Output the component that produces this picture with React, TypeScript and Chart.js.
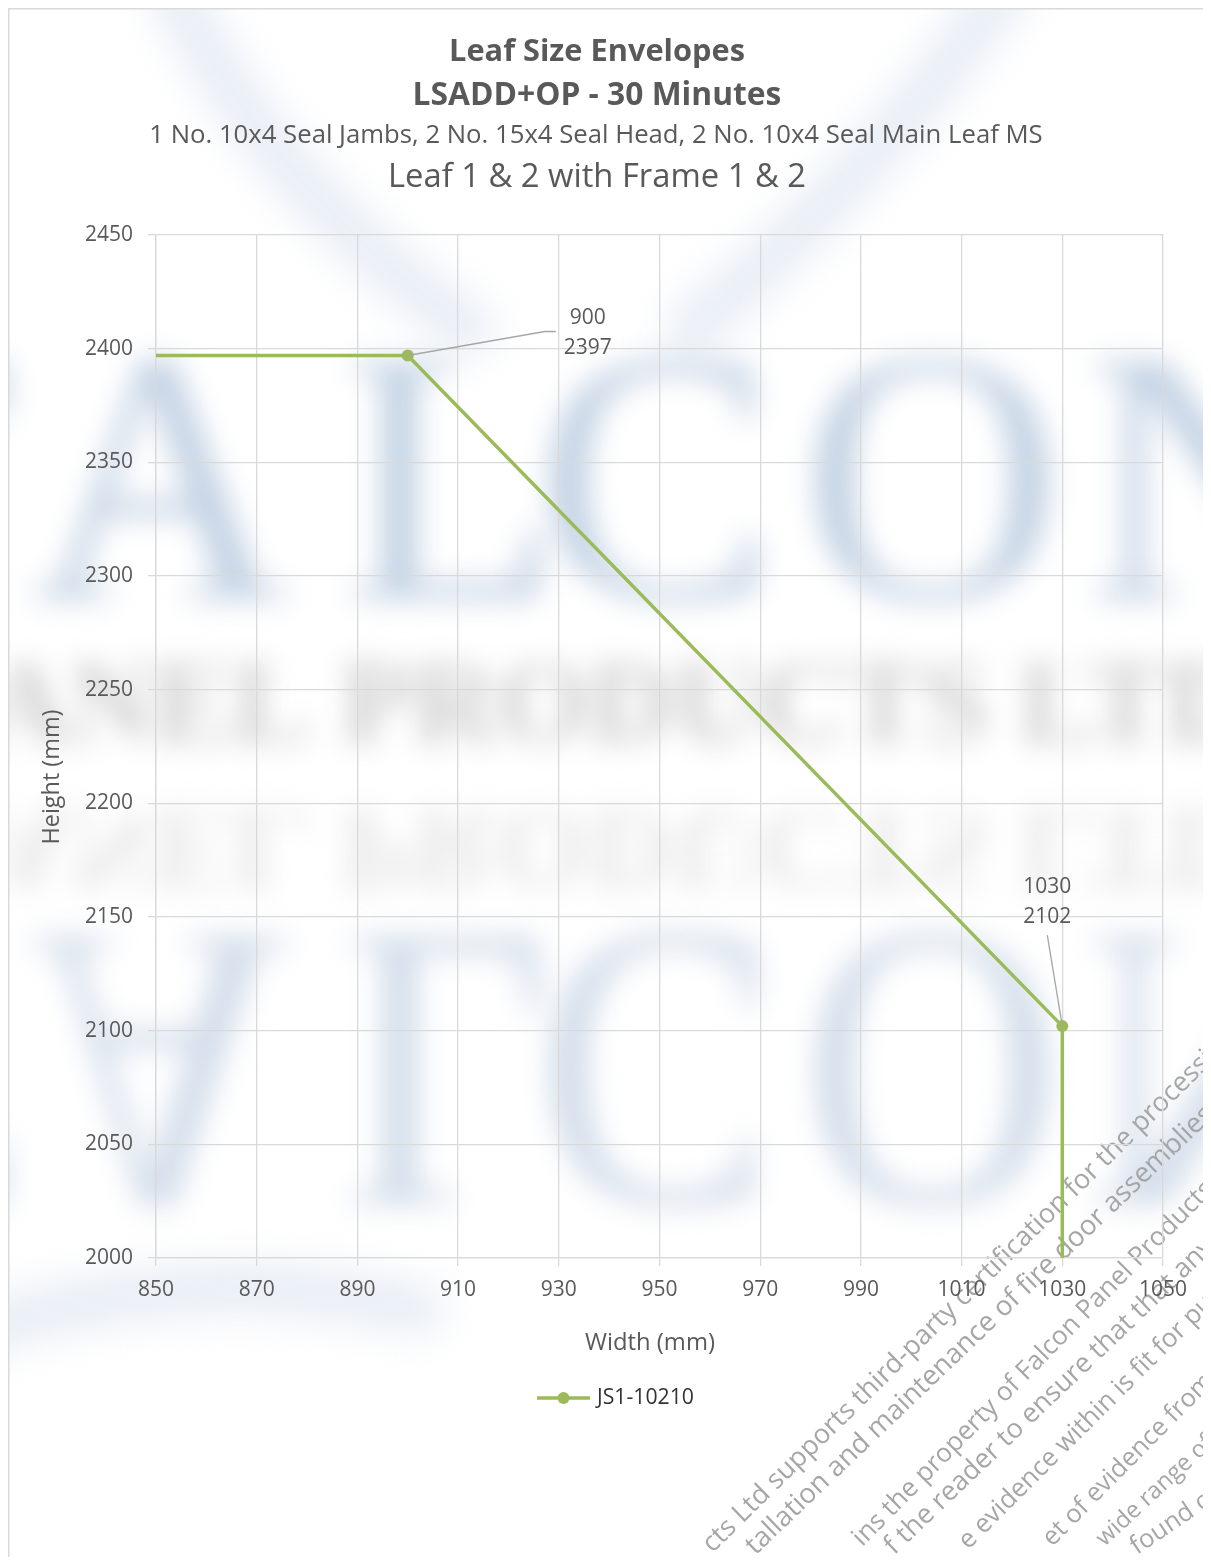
import React, { useEffect, useRef } from "react";
import { Chart, registerables } from "chart.js";

Chart.register(...registerables);

// ---- data ----
const widths = [850, 900, 1030, 1030];
const heights = [2397, 2397, 2102, 2000];
const markerShown = [false, true, true, false];
const labelShown = [false, true, true, false];
const seriesName = "JS1-10210";
const xRange = [850, 1050];
const xStep = 20;
const yRange = [2000, 2450];
const yStep = 50;
const titleLines = ["Leaf Size Envelopes", "LSADD+OP - 30 Minutes"];
const subtitleLines = [
  "1 No. 10x4 Seal Jambs, 2 No. 15x4 Seal Head, 2 No. 10x4 Seal Main Leaf MS",
  "Leaf 1 & 2 with Frame 1 & 2",
];
const xAxisTitle = "Width (mm)";
const yAxisTitle = "Height (mm)";

// background watermark text
const wmLetters = ["F", "A", "L", "C", "O", "N"];
const wmCompany = "PANEL PRODUCTS LTD";
const wmNotice = [
  "cts Ltd supports third-party certification for the processi",
  "tallation and maintenance of fire door assemblies",
  "ins the property of Falcon Panel Products",
  "f the reader to ensure that that any",
  "e evidence within is fit for pu",
  "et of evidence from",
  "wide range of",
  "found o",
];

const FONT = "'Open Sans', 'Noto Sans', sans-serif";
const SERIF = "'Liberation Serif', 'DejaVu Serif', serif";
const GREEN = "#9bbb59";
const TEXT = "#595959";
const GRID = "#d9d9d9";

function fitText(
  ctx: CanvasRenderingContext2D,
  text: string,
  weight: string,
  targetWidth: number,
  family: string = FONT
) {
  ctx.font = `${weight} 20px ${family}`;
  const w = ctx.measureText(text).width;
  const size = (20 * targetWidth) / w;
  ctx.font = `${weight} ${size}px ${family}`;
  return size;
}

function drawWatermark(ctx: CanvasRenderingContext2D) {
  // drawn in page coordinates (canvas is offset by the 8px body margin)
  ctx.save();
  ctx.translate(-8, -8);

  // swooshes
  ctx.save();
  ctx.filter = "blur(20px)";
  ctx.strokeStyle = "rgba(208,220,235,0.5)";
  ctx.lineWidth = 50;
  ctx.lineCap = "round";
  ctx.beginPath();
  ctx.moveTo(170, -20);
  ctx.quadraticCurveTo(260, 180, 470, 330);
  ctx.stroke();
  ctx.beginPath();
  ctx.moveTo(1010, -20);
  ctx.quadraticCurveTo(880, 170, 690, 330);
  ctx.stroke();
  ctx.beginPath();
  ctx.moveTo(-20, 1330);
  ctx.quadraticCurveTo(200, 1260, 420, 1310);
  ctx.stroke();
  ctx.restore();

  // FALCON
  ctx.save();
  ctx.filter = "blur(15px)";
  ctx.textAlign = "center";
  ctx.textBaseline = "alphabetic";
  ctx.font = `normal 360px ${SERIF}`;
  const cx = [-80, 160, 452, 656, 932, 1215];
  ctx.fillStyle = "#bfcfe2";
  wmLetters.forEach((l, i) => ctx.fillText(l, cx[i], 598));
  // reflection
  ctx.save();
  ctx.translate(0, 937);
  ctx.scale(1, -1.13);
  ctx.fillStyle = "#d0dbe9";
  wmLetters.forEach((l, i) => ctx.fillText(l, cx[i], 0));
  ctx.restore();
  ctx.restore();

  // company line and reflection
  ctx.save();
  ctx.filter = "blur(14px)";
  ctx.textAlign = "left";
  ctx.textBaseline = "alphabetic";
  fitText(ctx, wmCompany, "bold", 1330, SERIF);
  ctx.fillStyle = "#cdcdcd";
  ctx.fillText(wmCompany, -80, 742);
  ctx.save();
  ctx.translate(0, 810);
  ctx.scale(1, -1);
  ctx.fillStyle = "#e6e6e6";
  ctx.fillText(wmCompany, -80, 0);
  ctx.restore();
  ctx.restore();

  // diagonal notice text
  const seg = [
    [707, 1548, 1210, 1055],
    [750, 1550, 1210, 1110],
    [857, 1542, 1210, 1185],
    [889, 1550, 1210, 1243],
    [963, 1545, 1210, 1299],
    [1047, 1542, 1210, 1377],
    [1100, 1542, 1210, 1440],
    [1133, 1549, 1210, 1497],
  ];
  ctx.save();
  ctx.fillStyle = "#a6a6a6";
  ctx.textAlign = "left";
  ctx.textBaseline = "middle";
  wmNotice.forEach((t, i) => {
    const [sx, sy, ex, ey] = seg[i];
    const len = Math.hypot(ex - sx, ey - sy);
    ctx.save();
    ctx.translate(sx, sy);
    ctx.rotate(Math.atan2(ey - sy, ex - sx));
    fitText(ctx, t, "normal", len);
    ctx.fillText(t, 0, 0);
    ctx.restore();
  });
  ctx.restore();

  ctx.restore();
}

const decorPlugin = {
  id: "decor",
  beforeDraw(chart: any) {
    const ctx = chart.ctx as CanvasRenderingContext2D;
    ctx.save();
    ctx.fillStyle = "#ffffff";
    ctx.fillRect(0, 0, chart.width, chart.height);
    drawWatermark(ctx);
    ctx.strokeStyle = GRID;
    ctx.lineWidth = 1.5;
    ctx.beginPath();
    ctx.moveTo(0.75, chart.height);
    ctx.lineTo(0.75, 0.75);
    ctx.lineTo(chart.width, 0.75);
    ctx.stroke();
    ctx.restore();
  },
  afterDraw(chart: any) {
    const ctx = chart.ctx as CanvasRenderingContext2D;
    const xs = chart.scales.x;
    const ys = chart.scales.y;
    ctx.save();
    ctx.textAlign = "center";
    ctx.textBaseline = "middle";
    ctx.fillStyle = TEXT;

    // titles
    fitText(ctx, titleLines[0], "bold", 296);
    ctx.fillText(titleLines[0], 589, 44);
    fitText(ctx, titleLines[1], "bold", 369);
    ctx.fillText(titleLines[1], 589, 88);
    fitText(ctx, subtitleLines[0], "normal", 894);
    ctx.fillText(subtitleLines[0], 588, 128);
    fitText(ctx, subtitleLines[1], "normal", 418);
    ctx.fillText(subtitleLines[1], 589, 170);

    // axis titles
    fitText(ctx, xAxisTitle, "normal", 130);
    ctx.fillText(xAxisTitle, 642, 1335);
    ctx.save();
    ctx.translate(44, 769);
    ctx.rotate(-Math.PI / 2);
    fitText(ctx, yAxisTitle, "normal", 135);
    ctx.fillText(yAxisTitle, 0, 0);
    ctx.restore();

    // data labels with leader lines
    const offsets = [
      null,
      { lx: 180, ly: -22, path: [[137, -24], [148, -24]] },
      { lx: -15, ly: -124, path: [[-15, -91]] },
      null,
    ];
    for (let i = 0; i < widths.length; i++) {
      if (!labelShown[i]) continue;
      const o: any = offsets[i];
      const px = xs.getPixelForValue(widths[i]);
      const py = ys.getPixelForValue(heights[i]);
      ctx.strokeStyle = "#a6a6a6";
      ctx.lineWidth = 1.3;
      ctx.beginPath();
      ctx.moveTo(px, py);
      for (const [dx, dy] of o.path) ctx.lineTo(px + dx, py + dy);
      ctx.stroke();
      ctx.font = `normal 21px ${FONT}`;
      ctx.fillStyle = TEXT;
      ctx.fillText(String(widths[i]), px + o.lx, py + o.ly - 15);
      ctx.fillText(String(heights[i]), px + o.lx, py + o.ly + 15);
    }

    // legend
    ctx.strokeStyle = GREEN;
    ctx.lineWidth = 3.5;
    ctx.beginPath();
    ctx.moveTo(529, 1390);
    ctx.lineTo(582, 1390);
    ctx.stroke();
    ctx.fillStyle = GREEN;
    ctx.beginPath();
    ctx.arc(555.5, 1390, 6, 0, Math.PI * 2);
    ctx.fill();
    ctx.textAlign = "left";
    ctx.fillStyle = "#333333";
    fitText(ctx, seriesName, "normal", 97);
    ctx.fillText(seriesName, 589, 1390);
    ctx.restore();
  },
};

export default function App() {
  const ref = useRef<HTMLCanvasElement | null>(null);
  useEffect(() => {
    if (!ref.current) return;
    const chart = new Chart(ref.current, {
      type: "scatter",
      data: {
        datasets: [
          {
            label: seriesName,
            data: widths.map((x, i) => ({ x, y: heights[i] })),
            showLine: true,
            borderColor: GREEN,
            backgroundColor: GREEN,
            borderWidth: 3.5,
            pointRadius: markerShown.map((m) => (m ? 6 : 0)),
            pointBorderWidth: 0,
            pointBackgroundColor: GREEN,
            tension: 0,
          },
        ],
      },
      options: {
        responsive: false,
        animation: false,
        layout: { padding: { top: 227, right: 40, left: 0, bottom: 0 } },
        plugins: {
          legend: { display: false },
          title: { display: false },
          tooltip: { enabled: false },
        },
        scales: {
          x: {
            type: "linear",
            min: xRange[0],
            max: xRange[1],
            ticks: {
              stepSize: xStep,
              color: TEXT,
              font: { family: FONT, size: 21 },
              padding: 11,
              maxRotation: 0,
              callback: (v: any) => String(v),
            },
            grid: { color: GRID, lineWidth: 1.3, tickLength: 8 },
            border: { color: GRID, width: 1.3 },
            afterFit: (s: any) => {
              s.height = 299;
            },
          },
          y: {
            type: "linear",
            min: yRange[0],
            max: yRange[1],
            ticks: {
              stepSize: yStep,
              color: TEXT,
              font: { family: FONT, size: 21 },
              padding: 15,
              callback: (v: any) => String(v),
            },
            grid: { color: GRID, lineWidth: 1.3, tickLength: 8 },
            border: { color: GRID, width: 1.3 },
            afterFit: (s: any) => {
              s.width = 148;
            },
          },
        },
      },
      plugins: [decorPlugin],
    } as any);
    return () => chart.destroy();
  }, []);
  return <canvas ref={ref} width={1195} height={1549} style={{ display: "block" }} />;
}
